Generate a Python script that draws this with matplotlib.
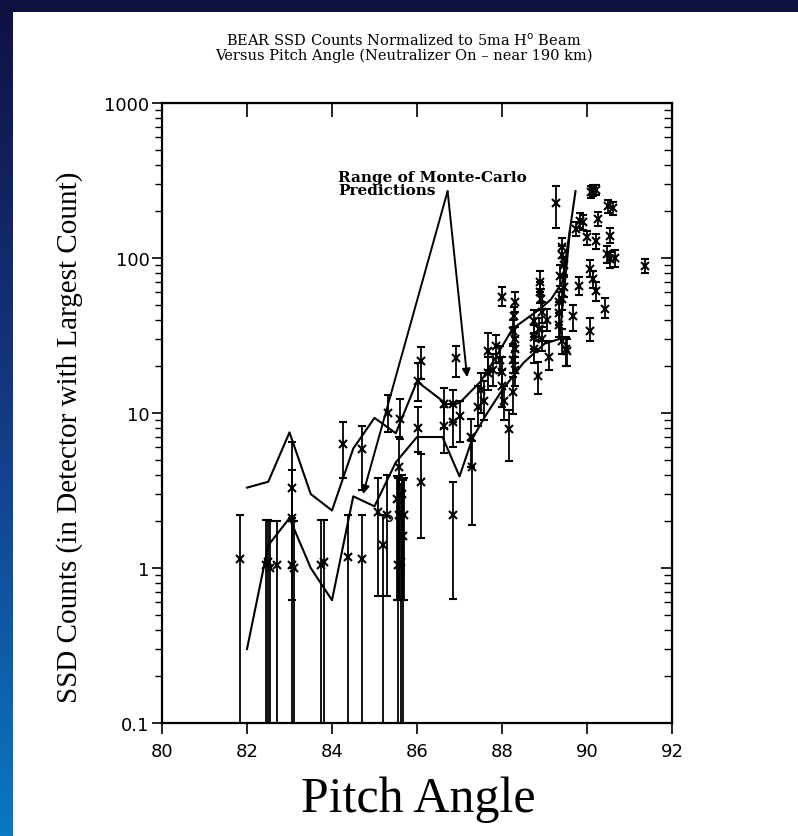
import numpy as np
import matplotlib.pyplot as plt
from matplotlib.colors import LinearSegmentedColormap
from matplotlib.patches import Rectangle

# ---- data: pitch angle, counts, error bar low / high ----
pitch = [81.83, 82.45, 82.50, 82.53, 82.70, 83.05, 83.10, 83.07, 83.05, 83.75,
         83.80, 84.27, 84.38, 84.70, 84.70, 85.08, 85.20, 85.30, 85.55, 85.58,
         85.62, 85.65, 85.70, 85.60, 85.32, 86.02, 86.02, 86.10, 86.10, 86.64,
         86.64, 86.84, 86.85, 86.85, 86.91, 87.00, 87.27, 87.30, 87.43, 87.50,
         87.57, 87.66, 87.66, 87.78, 87.85, 88.00, 88.00, 88.00, 88.16, 88.25,
         88.30, 88.30, 88.27, 88.30, 88.27, 88.30, 88.75, 88.75, 88.75, 88.84,
         88.87, 88.90, 88.90, 88.92, 89.10, 89.27, 89.33, 89.33, 89.35, 89.42,
         89.40, 89.37, 89.42, 89.42, 89.50, 89.53, 89.68, 89.73, 89.80, 89.84,
         89.90, 90.00, 90.08, 90.10, 90.15, 90.20, 90.15, 90.20, 90.20, 90.27,
         90.08, 90.43, 90.50, 90.62, 90.55, 90.47, 90.55, 90.65, 91.37, 88.05,
         88.95, 88.95, 89.45, 89.45, 88.28, 87.95, 89.05, 85.58, 85.68, 85.52]
counts = [1.15, 1.05, 1.10, 1.00, 1.05, 1.05, 1.00, 2.10, 3.30, 1.05,
          1.10, 6.30, 1.18, 5.90, 1.15, 2.30, 1.40, 2.20, 1.05, 2.20,
          1.10, 3.00, 2.20, 9.20, 10.0, 16.0, 8.00, 3.60, 21.6, 11.4,
          8.20, 11.4, 8.70, 2.20, 22.5, 9.50, 7.00, 4.50, 11.0, 14.0,
          12.0, 25.0, 18.0, 19.0, 27.0, 56.0, 18.4, 15.0, 7.90, 34.0,
          30.0, 26.0, 22.0, 19.0, 13.7, 52.0, 39.0, 31.0, 26.0, 17.4,
          35.0, 70.0, 60.0, 54.0, 23.0, 225, 52.0, 44.0, 37.0, 118,
          105, 77.0, 54.0, 29.0, 26.0, 25.0, 42.0, 154, 66.0, 174,
          170, 136, 85.0, 265, 270, 275, 73.0, 61.0, 128, 178,
          34.0, 47.0, 215, 210, 139, 106, 98.0, 100, 89.0, 12.0,
          45.0, 30.0, 90.0, 65.0, 42.0, 22.0, 40.0, 4.50, 1.60, 2.80]
err_lo = [0.05, 0.05, 0.05, 0.05, 0.05, 0.05, 0.05, 0.62, 1.00, 0.05,
          0.05, 3.80, 0.05, 3.20, 0.05, 0.66, 0.05, 0.66, 0.05, 0.62,
          0.05, 0.62, 0.62, 6.80, 7.50, 12.0, 5.60, 1.55, 16.5, 8.00,
          5.50, 8.70, 6.00, 0.63, 17.0, 6.50, 4.50, 1.90, 8.30, 10.0,
          9.00, 19.0, 14.0, 15.0, 21.0, 49.0, 11.0, 11.0, 4.90, 28.0,
          25.0, 21.0, 18.0, 15.0, 9.80, 45.0, 33.0, 26.0, 21.0, 13.3,
          29.0, 60.0, 51.0, 46.0, 19.0, 155, 44.0, 37.0, 31.0, 100,
          90.0, 66.0, 46.0, 24.0, 20.0, 20.0, 34.0, 138, 58.0, 155,
          152, 122, 75.0, 245, 250, 255, 64.0, 53.0, 115, 160,
          29.0, 41.0, 195, 190, 125, 93.0, 86.0, 88.0, 80.0, 9.00,
          38.0, 25.0, 78.0, 56.0, 36.0, 18.0, 34.0, 0.62, 0.05, 0.62]
err_hi = [2.20, 2.05, 2.05, 2.00, 2.00, 2.10, 2.00, 4.30, 6.50, 2.05,
          2.05, 8.70, 2.20, 8.30, 2.20, 3.80, 2.20, 4.00, 3.80, 3.80,
          3.50, 4.00, 3.80, 12.3, 13.0, 21.0, 11.0, 5.40, 26.5, 14.6,
          11.0, 14.0, 11.5, 3.60, 27.0, 12.0, 9.20, 6.60, 15.0, 18.0,
          16.0, 33.0, 23.0, 24.0, 32.0, 65.0, 23.0, 19.0, 10.5, 40.0,
          36.0, 31.0, 27.0, 23.0, 17.0, 60.0, 46.0, 37.0, 31.0, 21.3,
          41.0, 82.0, 70.0, 63.0, 29.0, 290, 60.0, 52.0, 44.0, 135,
          120, 90.0, 63.0, 35.0, 31.0, 30.0, 50.0, 170, 75.0, 195,
          190, 150, 97.0, 290, 295, 295, 83.0, 70.0, 142, 198,
          41.0, 55.0, 235, 230, 155, 120, 110, 113, 98.0, 15.0,
          52.0, 36.0, 102, 75.0, 48.0, 27.0, 47.0, 7.00, 3.70, 3.90]

# Monte-Carlo prediction curves
mc_hi_x = [82.0, 82.5, 83.0, 83.5, 84.0, 84.5, 85.0, 85.5, 86.0, 86.7, 87.0,
           87.5, 87.7, 88.25, 88.9, 89.15, 89.42, 89.73]
mc_hi_y = [3.3, 3.6, 7.5, 3.0, 2.35, 5.9, 9.3, 7.4, 16, 11.4, 11.6,
           16, 19.5, 35, 47, 54, 70, 270]
mc_lo_x = [82.0, 82.5, 83.0, 83.5, 84.0, 84.5, 85.0, 85.5, 86.0, 86.6, 87.0,
           87.3, 87.6, 88.0, 88.5, 89.0, 89.35, 89.6]
mc_lo_y = [0.30, 1.4, 2.1, 1.0, 0.62, 2.9, 2.5, 4.8, 7.0, 7.0, 3.9,
           6.8, 9.5, 14, 21, 28, 30, 150]

x_ticks = [80, 82, 84, 86, 88, 90, 92]
y_ticks = [0.1, 1, 10, 100, 1000]
y_labels = ['0.1', '1', '10', '100', '1000']

W, H = 798, 837
fig = plt.figure(figsize=(W / 100, H / 100), dpi=100)
fig.patch.set_facecolor('#0f1140')

# blue frame on the left, white page
strip = fig.add_axes([0, 0, 13 / W, 1])
cmap = LinearSegmentedColormap.from_list('frame', ['#0f1140', '#143a86', '#0a78c2'])
strip.imshow(np.linspace(0, 1, 256).reshape(-1, 1), aspect='auto', cmap=cmap)
strip.axis('off')
fig.add_artist(Rectangle((13 / W, 0), 1, 1 - 13 / H, transform=fig.transFigure,
                         facecolor='white', edgecolor='none', zorder=0))

ax = fig.add_axes([162 / W, 1 - 724 / H, (672 - 162) / W, (724 - 104) / H])
ax.set_yscale('log')
ax.set_xlim(80, 92)
ax.set_ylim(0.1, 1000)

lo = np.array(counts) - np.array(err_lo)
hi = np.array(err_hi) - np.array(counts)
ax.errorbar(pitch, counts, yerr=[lo, hi], fmt='x', color='black', ms=6,
            mew=1.5, elinewidth=1.3, capsize=3, capthick=1.3)
ax.plot([85.35], [2.1], 'o', mfc='white', mec='black', ms=4, mew=1)

ax.plot(mc_hi_x, mc_hi_y, color='black', lw=1.5)
ax.plot(mc_lo_x, mc_lo_y, color='black', lw=1.5)

arrow = dict(arrowstyle='-|>', color='black', lw=1.4, mutation_scale=12,
             shrinkA=0, shrinkB=0)
ax.annotate('', xy=(84.73, 3.0), xytext=(86.72, 270), arrowprops=arrow)
ax.annotate('', xy=(87.18, 17), xytext=(86.72, 270), arrowprops=arrow)
ax.text(84.15, 370, 'Range of Monte-Carlo\nPredictions', fontsize=11,
        fontweight='bold', family='DejaVu Serif', va='top', ha='left',
        linespacing=0.9)

ax.set_xticks(x_ticks)
ax.set_xticklabels([str(t) for t in x_ticks])
ax.set_yticks(y_ticks)
ax.set_yticklabels(y_labels)
for lab in ax.get_xticklabels() + ax.get_yticklabels():
    lab.set_fontsize(13)
ax.tick_params(axis='x', direction='out', length=8, width=1.2, pad=6)
ax.tick_params(axis='y', which='major', direction='out', length=7, width=1.2, pad=2)
ax.tick_params(axis='y', which='minor', direction='out', length=5, width=1.0)
for s in ax.spines.values():
    s.set_linewidth(1.6)

top = ax.secondary_xaxis('top')
top.set_xticks(x_ticks[1:-1])
top.tick_params(direction='in', length=10, width=1.2, labeltop=False)
right = ax.secondary_yaxis('right')
right.set_yticks(y_ticks)
right.tick_params(which='major', direction='in', length=8, width=1.2, labelright=False)
right.tick_params(which='minor', direction='in', length=6, width=1.0, labelright=False)

fig.text(404 / W, 1 - 48 / H,
         'BEAR SSD Counts Normalized to 5ma H$^{\\mathrm{o}}$ Beam\n'
         'Versus Pitch Angle (Neutralizer On \u2013 near 190 km)',
         ha='center', va='center', fontsize=10.5, family='DejaVu Serif',
         linespacing=1.0)
fig.text(70 / W, 1 - 437 / H, 'SSD Counts (in Detector with Largest Count)',
         rotation=90, ha='center', va='center', fontsize=21,
         family='Liberation Serif')
fig.text(418 / W, 1 - 800 / H, 'Pitch Angle', ha='center', va='center',
         fontsize=36, family='Liberation Serif')

fig.savefig('out.png', dpi=100)
